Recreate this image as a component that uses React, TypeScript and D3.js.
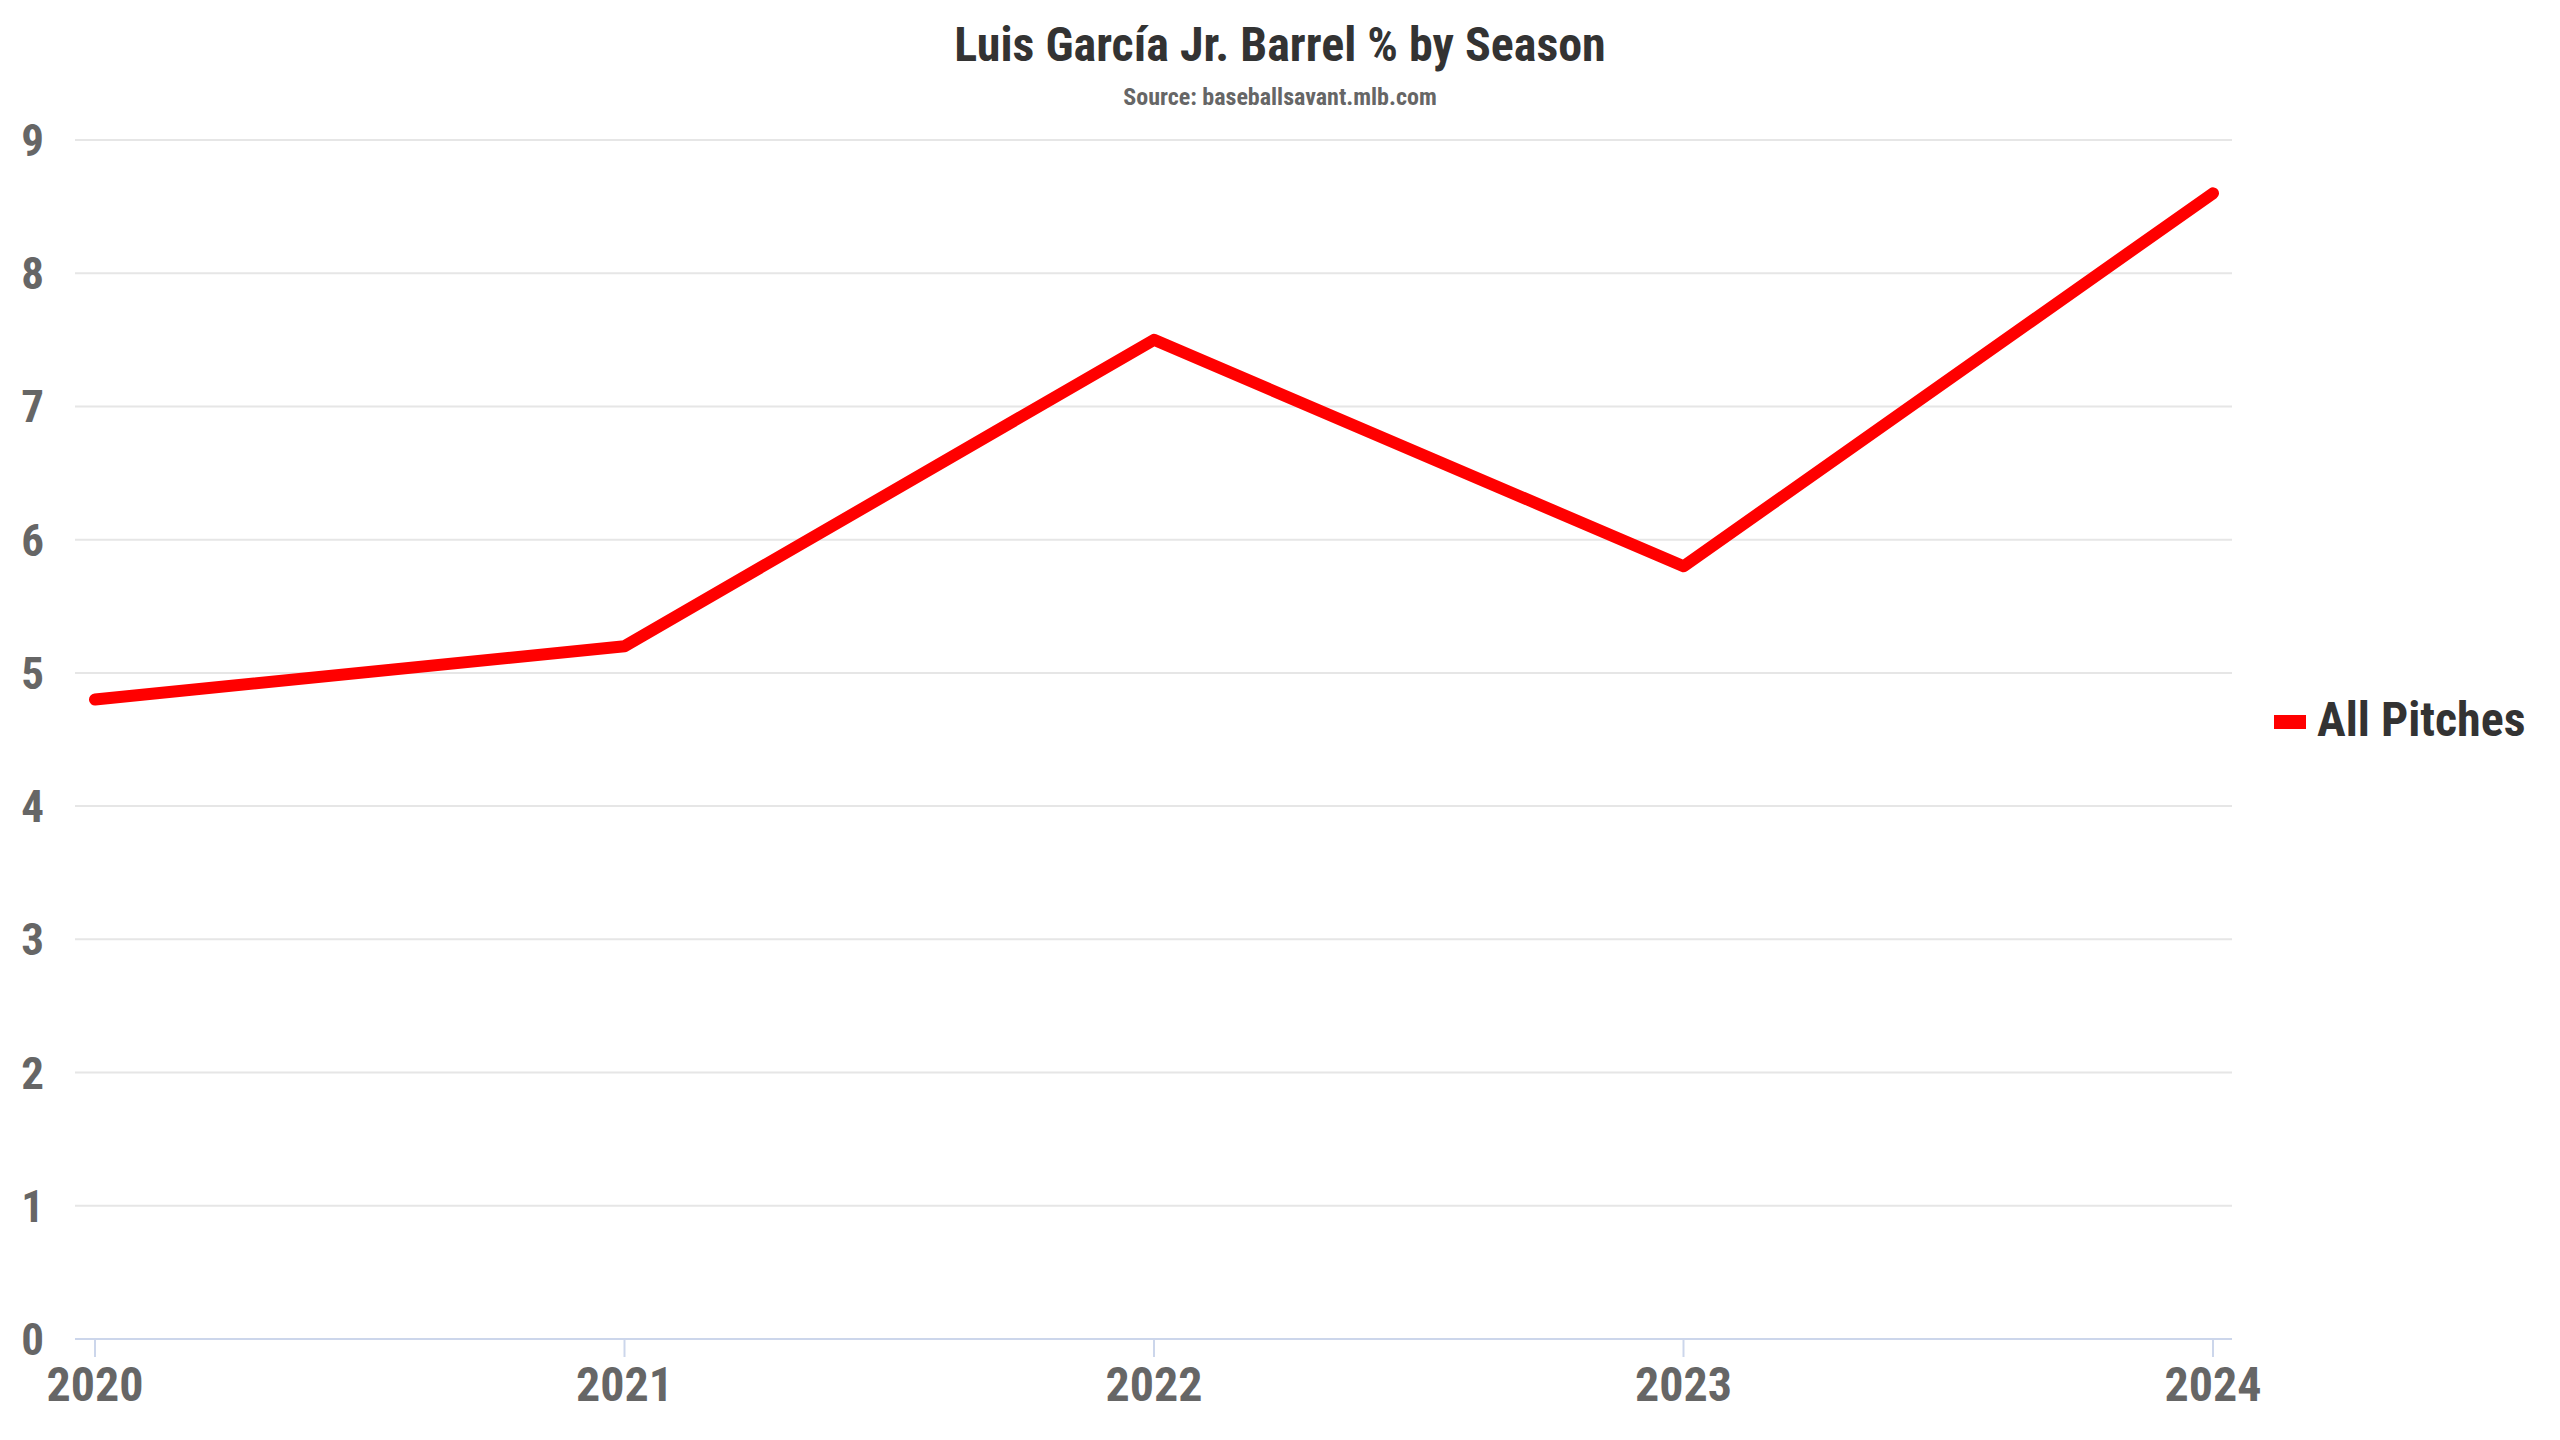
import React, { useEffect, useRef } from "react";
import * as d3 from "d3";

const seasons: string[] = ["2020", "2021", "2022", "2023", "2024"];
const barrelPct: number[] = [4.8, 5.2, 7.5, 5.8, 8.6];
const yTicks: number[] = [0, 1, 2, 3, 4, 5, 6, 7, 8, 9];
const seriesName = "All Pitches";
const titleText = "Luis García Jr. Barrel % by Season";
const subtitleText = "Source: baseballsavant.mlb.com";

const FONT = "'Roboto Condensed', 'Liberation Sans Narrow', Roboto, sans-serif";

const App: React.FC = () => {
  const svgRef = useRef<SVGSVGElement | null>(null);

  useEffect(() => {
    document.body.style.margin = "0";
    if (!svgRef.current) return;
    const width = 2560;
    const height = 1440;
    const plot = { left: 75, right: 2232, top: 140, bottom: 1339 };

    const svg = d3.select(svgRef.current);
    svg.selectAll("*").remove();
    svg.attr("viewBox", `0 0 ${width} ${height}`);

    svg.append("rect").attr("width", width).attr("height", height).attr("fill", "#ffffff");

    const x = d3
      .scalePoint<string>()
      .domain(seasons)
      .range([95, 2213]);

    const y = d3.scaleLinear().domain([0, 9]).range([plot.bottom, plot.top]);

    // grid
    svg
      .append("g")
      .selectAll("line")
      .data(yTicks.filter((t) => t > 0))
      .enter()
      .append("line")
      .attr("x1", plot.left)
      .attr("x2", plot.right)
      .attr("y1", (d) => y(d))
      .attr("y2", (d) => y(d))
      .attr("stroke", "#e6e6e6")
      .attr("stroke-width", 2);

    // y labels
    svg
      .append("g")
      .selectAll("text")
      .data(yTicks)
      .enter()
      .append("text")
      .attr("x", 44)
      .attr("y", (d) => y(d) + 16)
      .attr("text-anchor", "end")
      .attr("font-family", FONT)
      .attr("font-weight", "bold")
      .attr("font-size", 45)
      .attr("fill", "#666666")
      .text((d) => d);

    // x axis
    svg
      .append("line")
      .attr("x1", plot.left)
      .attr("x2", plot.right)
      .attr("y1", plot.bottom)
      .attr("y2", plot.bottom)
      .attr("stroke", "#ccd6eb")
      .attr("stroke-width", 2);

    const xg = svg.append("g");
    xg.selectAll("line")
      .data(seasons)
      .enter()
      .append("line")
      .attr("x1", (d) => x(d)!)
      .attr("x2", (d) => x(d)!)
      .attr("y1", plot.bottom)
      .attr("y2", plot.bottom + 18)
      .attr("stroke", "#ccd6eb")
      .attr("stroke-width", 2);

    xg.selectAll("text")
      .data(seasons)
      .enter()
      .append("text")
      .attr("x", (d) => x(d)!)
      .attr("y", 1401)
      .attr("text-anchor", "middle")
      .attr("font-family", FONT)
      .attr("font-weight", "bold")
      .attr("font-size", 48)
      .attr("fill", "#666666")
      .text((d) => d);

    // series
    const line = d3
      .line<number>()
      .x((_, i) => x(seasons[i])!)
      .y((d) => y(d));

    svg
      .append("path")
      .datum(barrelPct)
      .attr("fill", "none")
      .attr("stroke", "#ff0000")
      .attr("stroke-width", 12)
      .attr("stroke-linecap", "round")
      .attr("stroke-linejoin", "round")
      .attr("d", line);

    // title
    svg
      .append("text")
      .attr("x", width / 2)
      .attr("y", 61)
      .attr("text-anchor", "middle")
      .attr("font-family", FONT)
      .attr("font-weight", "bold")
      .attr("font-size", 48)
      .attr("fill", "#333333")
      .text(titleText);

    svg
      .append("text")
      .attr("x", width / 2)
      .attr("y", 105)
      .attr("text-anchor", "middle")
      .attr("font-family", FONT)
      .attr("font-weight", "bold")
      .attr("font-size", 24)
      .attr("fill", "#666666")
      .text(subtitleText);

    // legend
    const legend = svg.append("g").attr("transform", "translate(2274, 722)");
    legend
      .append("rect")
      .attr("x", 0)
      .attr("y", -7)
      .attr("width", 32)
      .attr("height", 14)
      .attr("fill", "#ff0000");
    legend
      .append("text")
      .attr("x", 43)
      .attr("y", 14)
      .attr("font-family", FONT)
      .attr("font-weight", "bold")
      .attr("font-size", 48)
      .attr("fill", "#333333")
      .text(seriesName);
  }, []);

  return (
    <div style={{ width: 2560, height: 1440, overflow: "hidden" }}>
      <svg ref={svgRef} width={2560} height={1440} style={{ display: "block" }}></svg>
    </div>
  );
};

export default App;
